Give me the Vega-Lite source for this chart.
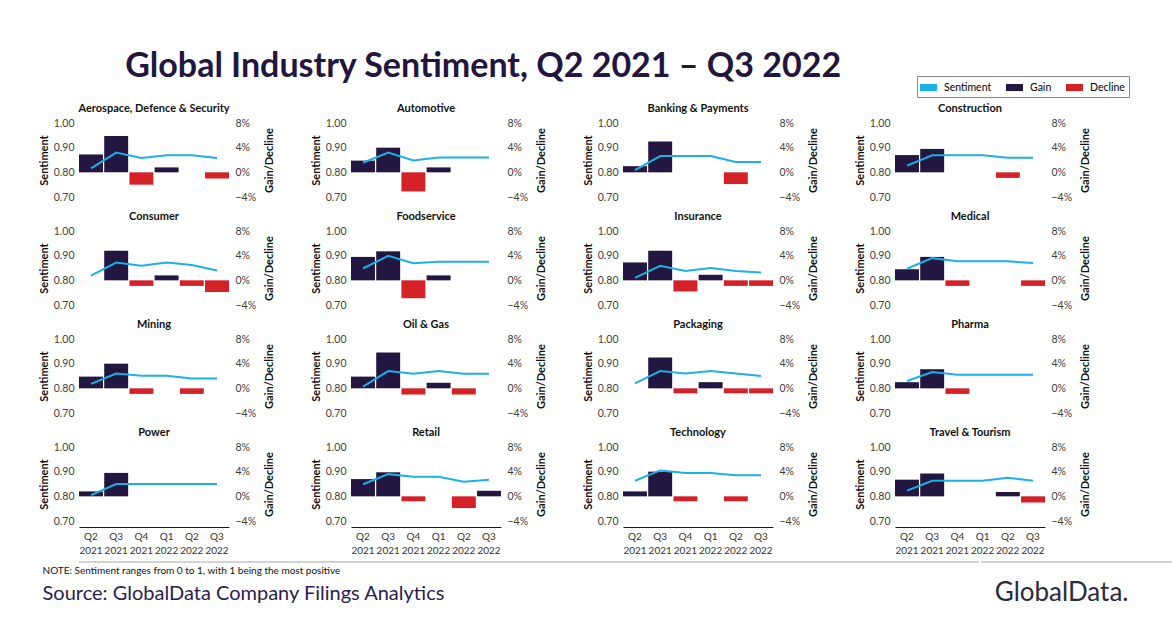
{
  "$schema": "https://vega.github.io/schema/vega-lite/v6.json",
  "background": "white",
  "padding": {"left": 38, "top": 49, "right": 10, "bottom": 4},
  "title": {
    "text": "Global Industry Sentiment, Q2 2021 – Q3 2022",
    "anchor": "start",
    "dx": 87,
    "fontSize": 34,
    "font": "Lato",
    "fontWeight": "bold",
    "color": "#22163f",
    "offset": -8
  },
  "spacing": 6,
  "vconcat": [
    {
      "data": {
        "values": [
          {"industry": "Aerospace, Defence & Security", "quarter": "Q2 2021", "sentiment": 0.816, "change": 0.029},
          {"industry": "Aerospace, Defence & Security", "quarter": "Q3 2021", "sentiment": 0.880, "change": 0.059},
          {"industry": "Aerospace, Defence & Security", "quarter": "Q4 2021", "sentiment": 0.858, "change": -0.020},
          {"industry": "Aerospace, Defence & Security", "quarter": "Q1 2022", "sentiment": 0.869, "change": 0.008},
          {"industry": "Aerospace, Defence & Security", "quarter": "Q2 2022", "sentiment": 0.869, "change": 0},
          {"industry": "Aerospace, Defence & Security", "quarter": "Q3 2022", "sentiment": 0.858, "change": -0.010},
          {"industry": "Automotive", "quarter": "Q2 2021", "sentiment": 0.839, "change": 0.019},
          {"industry": "Automotive", "quarter": "Q3 2021", "sentiment": 0.880, "change": 0.040},
          {"industry": "Automotive", "quarter": "Q4 2021", "sentiment": 0.848, "change": -0.031},
          {"industry": "Automotive", "quarter": "Q1 2022", "sentiment": 0.860, "change": 0.008},
          {"industry": "Automotive", "quarter": "Q2 2022", "sentiment": 0.860, "change": 0},
          {"industry": "Automotive", "quarter": "Q3 2022", "sentiment": 0.860, "change": 0},
          {"industry": "Banking & Payments", "quarter": "Q2 2021", "sentiment": 0.809, "change": 0.010},
          {"industry": "Banking & Payments", "quarter": "Q3 2021", "sentiment": 0.866, "change": 0.050},
          {"industry": "Banking & Payments", "quarter": "Q4 2021", "sentiment": 0.866, "change": 0},
          {"industry": "Banking & Payments", "quarter": "Q1 2022", "sentiment": 0.866, "change": 0},
          {"industry": "Banking & Payments", "quarter": "Q2 2022", "sentiment": 0.842, "change": -0.019},
          {"industry": "Banking & Payments", "quarter": "Q3 2022", "sentiment": 0.842, "change": 0},
          {"industry": "Construction", "quarter": "Q2 2021", "sentiment": 0.827, "change": 0.028},
          {"industry": "Construction", "quarter": "Q3 2021", "sentiment": 0.869, "change": 0.038},
          {"industry": "Construction", "quarter": "Q4 2021", "sentiment": 0.869, "change": 0},
          {"industry": "Construction", "quarter": "Q1 2022", "sentiment": 0.869, "change": 0},
          {"industry": "Construction", "quarter": "Q2 2022", "sentiment": 0.859, "change": -0.009},
          {"industry": "Construction", "quarter": "Q3 2022", "sentiment": 0.859, "change": 0},
          {"industry": "Consumer", "quarter": "Q2 2021", "sentiment": 0.819, "change": 0},
          {"industry": "Consumer", "quarter": "Q3 2021", "sentiment": 0.872, "change": 0.048},
          {"industry": "Consumer", "quarter": "Q4 2021", "sentiment": 0.859, "change": -0.009},
          {"industry": "Consumer", "quarter": "Q1 2022", "sentiment": 0.872, "change": 0.008},
          {"industry": "Consumer", "quarter": "Q2 2022", "sentiment": 0.862, "change": -0.009},
          {"industry": "Consumer", "quarter": "Q3 2022", "sentiment": 0.840, "change": -0.019},
          {"industry": "Foodservice", "quarter": "Q2 2021", "sentiment": 0.848, "change": 0.038},
          {"industry": "Foodservice", "quarter": "Q3 2021", "sentiment": 0.899, "change": 0.047},
          {"industry": "Foodservice", "quarter": "Q4 2021", "sentiment": 0.869, "change": -0.029},
          {"industry": "Foodservice", "quarter": "Q1 2022", "sentiment": 0.875, "change": 0.008},
          {"industry": "Foodservice", "quarter": "Q2 2022", "sentiment": 0.875, "change": 0},
          {"industry": "Foodservice", "quarter": "Q3 2022", "sentiment": 0.875, "change": 0},
          {"industry": "Insurance", "quarter": "Q2 2021", "sentiment": 0.810, "change": 0.029},
          {"industry": "Insurance", "quarter": "Q3 2021", "sentiment": 0.859, "change": 0.048},
          {"industry": "Insurance", "quarter": "Q4 2021", "sentiment": 0.838, "change": -0.018},
          {"industry": "Insurance", "quarter": "Q1 2022", "sentiment": 0.850, "change": 0.009},
          {"industry": "Insurance", "quarter": "Q2 2022", "sentiment": 0.838, "change": -0.009},
          {"industry": "Insurance", "quarter": "Q3 2022", "sentiment": 0.832, "change": -0.009},
          {"industry": "Medical", "quarter": "Q2 2021", "sentiment": 0.847, "change": 0.018},
          {"industry": "Medical", "quarter": "Q3 2021", "sentiment": 0.890, "change": 0.038},
          {"industry": "Medical", "quarter": "Q4 2021", "sentiment": 0.877, "change": -0.009},
          {"industry": "Medical", "quarter": "Q1 2022", "sentiment": 0.877, "change": 0},
          {"industry": "Medical", "quarter": "Q2 2022", "sentiment": 0.877, "change": 0},
          {"industry": "Medical", "quarter": "Q3 2022", "sentiment": 0.870, "change": -0.009},
          {"industry": "Mining", "quarter": "Q2 2021", "sentiment": 0.818, "change": 0.019},
          {"industry": "Mining", "quarter": "Q3 2021", "sentiment": 0.860, "change": 0.040},
          {"industry": "Mining", "quarter": "Q4 2021", "sentiment": 0.851, "change": -0.009},
          {"industry": "Mining", "quarter": "Q1 2022", "sentiment": 0.851, "change": 0},
          {"industry": "Mining", "quarter": "Q2 2022", "sentiment": 0.840, "change": -0.009},
          {"industry": "Mining", "quarter": "Q3 2022", "sentiment": 0.840, "change": 0},
          {"industry": "Oil & Gas", "quarter": "Q2 2021", "sentiment": 0.807, "change": 0.019},
          {"industry": "Oil & Gas", "quarter": "Q3 2021", "sentiment": 0.870, "change": 0.058},
          {"industry": "Oil & Gas", "quarter": "Q4 2021", "sentiment": 0.859, "change": -0.010},
          {"industry": "Oil & Gas", "quarter": "Q1 2022", "sentiment": 0.870, "change": 0.009},
          {"industry": "Oil & Gas", "quarter": "Q2 2022", "sentiment": 0.859, "change": -0.010},
          {"industry": "Oil & Gas", "quarter": "Q3 2022", "sentiment": 0.859, "change": 0},
          {"industry": "Packaging", "quarter": "Q2 2021", "sentiment": 0.820, "change": 0},
          {"industry": "Packaging", "quarter": "Q3 2021", "sentiment": 0.870, "change": 0.050},
          {"industry": "Packaging", "quarter": "Q4 2021", "sentiment": 0.860, "change": -0.008},
          {"industry": "Packaging", "quarter": "Q1 2022", "sentiment": 0.870, "change": 0.010},
          {"industry": "Packaging", "quarter": "Q2 2022", "sentiment": 0.860, "change": -0.008},
          {"industry": "Packaging", "quarter": "Q3 2022", "sentiment": 0.850, "change": -0.008},
          {"industry": "Pharma", "quarter": "Q2 2021", "sentiment": 0.830, "change": 0.010},
          {"industry": "Pharma", "quarter": "Q3 2021", "sentiment": 0.866, "change": 0.031},
          {"industry": "Pharma", "quarter": "Q4 2021", "sentiment": 0.855, "change": -0.009},
          {"industry": "Pharma", "quarter": "Q1 2022", "sentiment": 0.855, "change": 0},
          {"industry": "Pharma", "quarter": "Q2 2022", "sentiment": 0.855, "change": 0},
          {"industry": "Pharma", "quarter": "Q3 2022", "sentiment": 0.855, "change": 0},
          {"industry": "Power", "quarter": "Q2 2021", "sentiment": 0.805, "change": 0.008},
          {"industry": "Power", "quarter": "Q3 2021", "sentiment": 0.850, "change": 0.038},
          {"industry": "Power", "quarter": "Q4 2021", "sentiment": 0.850, "change": 0},
          {"industry": "Power", "quarter": "Q1 2022", "sentiment": 0.850, "change": 0},
          {"industry": "Power", "quarter": "Q2 2022", "sentiment": 0.850, "change": 0},
          {"industry": "Power", "quarter": "Q3 2022", "sentiment": 0.850, "change": 0},
          {"industry": "Retail", "quarter": "Q2 2021", "sentiment": 0.849, "change": 0.028},
          {"industry": "Retail", "quarter": "Q3 2021", "sentiment": 0.890, "change": 0.039},
          {"industry": "Retail", "quarter": "Q4 2021", "sentiment": 0.879, "change": -0.008},
          {"industry": "Retail", "quarter": "Q1 2022", "sentiment": 0.879, "change": 0},
          {"industry": "Retail", "quarter": "Q2 2022", "sentiment": 0.859, "change": -0.019},
          {"industry": "Retail", "quarter": "Q3 2022", "sentiment": 0.867, "change": 0.009},
          {"industry": "Technology", "quarter": "Q2 2021", "sentiment": 0.863, "change": 0.008},
          {"industry": "Technology", "quarter": "Q3 2021", "sentiment": 0.905, "change": 0.040},
          {"industry": "Technology", "quarter": "Q4 2021", "sentiment": 0.895, "change": -0.008},
          {"industry": "Technology", "quarter": "Q1 2022", "sentiment": 0.895, "change": 0},
          {"industry": "Technology", "quarter": "Q2 2022", "sentiment": 0.885, "change": -0.008},
          {"industry": "Technology", "quarter": "Q3 2022", "sentiment": 0.885, "change": 0},
          {"industry": "Travel & Tourism", "quarter": "Q2 2021", "sentiment": 0.823, "change": 0.027},
          {"industry": "Travel & Tourism", "quarter": "Q3 2021", "sentiment": 0.863, "change": 0.037},
          {"industry": "Travel & Tourism", "quarter": "Q4 2021", "sentiment": 0.863, "change": 0},
          {"industry": "Travel & Tourism", "quarter": "Q1 2022", "sentiment": 0.863, "change": 0},
          {"industry": "Travel & Tourism", "quarter": "Q2 2022", "sentiment": 0.875, "change": 0.007},
          {"industry": "Travel & Tourism", "quarter": "Q3 2022", "sentiment": 0.863, "change": -0.010}
        ]
      },
      "transform": [
        {"calculate": "datum.change < 0 ? 'Decline' : 'Gain'", "as": "series"}
      ],
      "facet": {
        "field": "industry",
        "type": "nominal",
        "sort": [
          "Aerospace, Defence & Security", "Automotive", "Banking & Payments", "Construction",
          "Consumer", "Foodservice", "Insurance", "Medical",
          "Mining", "Oil & Gas", "Packaging", "Pharma",
          "Power", "Retail", "Technology", "Travel & Tourism"
        ],
        "header": {
          "title": null,
          "labelFont": "Lato",
          "labelFontSize": 11,
          "labelFontWeight": "bold",
          "labelColor": "#111111",
          "labelPadding": 4
        }
      },
      "columns": 4,
      "spacing": {"row": 8, "column": 35},
      "spec": {
        "width": 150,
        "height": 74,
        "encoding": {
          "x": {
            "field": "quarter",
            "type": "ordinal",
            "sort": ["Q2 2021", "Q3 2021", "Q4 2021", "Q1 2022", "Q2 2022", "Q3 2022"],
            "scale": {"paddingInner": 0.05, "paddingOuter": 0},
            "axis": {
              "title": null,
              "labelAngle": 0,
              "labelExpr": "split(datum.label, ' ')",
              "domain": true,
              "domainColor": "#1e1235",
              "labelFontSize": 10,
              "labelColor": "#333333",
              "labelPadding": 4,
              "labelLineHeight": 14
            }
          }
        },
        "layer": [
          {
            "mark": {"type": "bar"},
            "encoding": {
              "y": {
                "field": "change",
                "type": "quantitative",
                "scale": {"domain": [-0.04, 0.08]},
                "axis": {
                  "orient": "right",
                  "title": "Gain/Decline",
                  "titleAngle": 270,
                  "titleBaseline": "top",
                  "titlePadding": 8,
                  "values": [-0.04, 0, 0.04, 0.08],
                  "format": ".0%",
                  "labelPadding": 6
                }
              },
              "color": {
                "field": "series",
                "type": "nominal",
                "scale": {
                  "domain": ["Sentiment", "Gain", "Decline"],
                  "range": ["#1ab0e8", "#231640", "#d42027"]
                },
                "legend": {
                  "orient": "none",
                  "legendX": 838,
                  "legendY": -47,
                  "direction": "horizontal",
                  "title": null,
                  "symbolType": "M-1.2,-0.5H1.2V0.5H-1.2Z",
                  "symbolSize": 200,
                  "symbolStrokeWidth": 0,
                  "labelFont": "Lato",
                  "labelFontSize": 10.5,
                  "labelOffset": 8,
                  "strokeColor": "#888888",
                  "padding": 4,
                  "columnPadding": 14
                }
              }
            }
          },
          {
            "transform": [
              {"filter": {"not": {"field": "industry", "oneOf": ["Power", "Retail", "Technology", "Travel & Tourism"]}}}
            ],
            "mark": {"type": "rule", "color": "#1e1235", "strokeWidth": 1},
            "encoding": {
              "y": {"datum": 0, "type": "quantitative", "scale": {"domain": [-0.04, 0.08]}, "axis": null}
            }
          },
          {
            "mark": {"type": "line", "strokeWidth": 2},
            "encoding": {
              "y": {
                "field": "sentiment",
                "type": "quantitative",
                "scale": {"domain": [0.7, 1.0]},
                "axis": {
                  "orient": "left",
                  "title": "Sentiment",
                  "values": [0.7, 0.8, 0.9, 1.0],
                  "format": ".2f",
                  "labelPadding": 5
                }
              },
              "color": {"datum": "Sentiment"}
            }
          }
        ],
        "resolve": {"scale": {"y": "independent"}}
      },
      "resolve": {"scale": {"y": "independent"}}
    },
    {
      "spacing": 0,
      "hconcat": [
        {
          "data": {"values": [{}]},
          "width": 900,
          "height": 2,
          "title": {
            "text": "NOTE:  Sentiment  ranges from 0 to 1, with 1 being the most positive",
            "subtitle": "Source: GlobalData Company Filings Analytics",
            "orient": "bottom",
            "anchor": "start",
            "dx": -36,
            "offset": 2,
            "font": "Lato",
            "fontSize": 10,
            "fontWeight": "normal",
            "color": "#111111",
            "subtitleFont": "Lato",
            "subtitleFontSize": 20,
            "subtitleColor": "#2b1d4f",
            "subtitlePadding": 8
          },
          "mark": {"type": "rule", "color": "#a6a6a6"},
          "encoding": {
            "y": {"datum": 1, "type": "quantitative", "scale": {"domain": [0, 1]}, "axis": null}
          }
        },
        {
          "data": {"values": [{}]},
          "width": 200,
          "height": 2,
          "title": {
            "text": "GlobalData.",
            "orient": "bottom",
            "anchor": "end",
            "dx": -53,
            "offset": 16,
            "font": "Lato",
            "fontSize": 26,
            "fontWeight": "normal",
            "color": "#2b2b3b"
          },
          "mark": {"type": "rule", "color": "#a6a6a6"},
          "encoding": {
            "y": {"datum": 1, "type": "quantitative", "scale": {"domain": [0, 1]}, "axis": null}
          }
        }
      ]
    }
  ],
  "config": {
    "view": {"stroke": null},
    "axis": {
      "grid": false,
      "ticks": false,
      "domain": false,
      "labelFont": "Lato",
      "labelFontSize": 10.5,
      "labelColor": "#404040",
      "titleFont": "Lato",
      "titleFontSize": 11,
      "titleFontWeight": "bold",
      "titleColor": "#111111",
      "titlePadding": 4
    }
  }
}
